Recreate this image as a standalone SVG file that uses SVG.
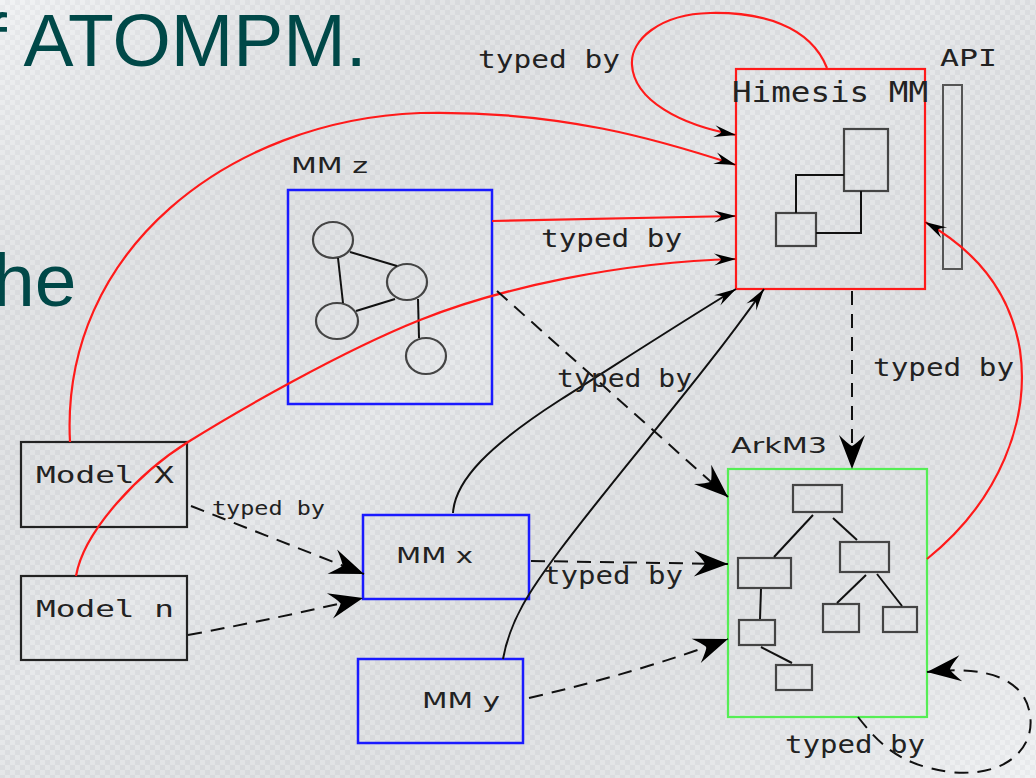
<svg xmlns="http://www.w3.org/2000/svg" width="1036" height="778" viewBox="0 0 1036 778">
<defs>
<pattern id="chk" width="10" height="10" patternUnits="userSpaceOnUse"><rect width="10" height="10" fill="#e4e6e9"/><rect width="5" height="5" fill="#eef0f2"/><rect x="5" y="5" width="5" height="5" fill="#eef0f2"/></pattern>
<linearGradient id="shade" x1="0" y1="0" x2="1" y2="1"><stop offset="0" stop-color="#fff" stop-opacity="0.2"/><stop offset="0.45" stop-color="#000" stop-opacity="0.03"/><stop offset="1" stop-color="#fff" stop-opacity="0.2"/></linearGradient>
<marker id="big" markerUnits="userSpaceOnUse" markerWidth="40" markerHeight="30" viewBox="-36 -15 40 30" refX="0" refY="0" orient="auto"><path d="M0,0 L-34,-13 Q-25,-4 -23,0 Q-25,4 -34,13 Z" fill="#000"/></marker>
<marker id="sm" markerUnits="userSpaceOnUse" markerWidth="26" markerHeight="16" viewBox="-24 -8 26 16" refX="0" refY="0" orient="auto"><path d="M0,0 L-22,-6 Q-16,-2 -15,0 Q-16,2 -22,6 Z" fill="#000"/></marker>
<style>
.lbl{font-family:"DejaVu Sans Mono",monospace;fill:#222}
.sans{font-family:"DejaVu Sans",sans-serif;fill:#222}
.red{fill:none;stroke:#ff1a1a;stroke-width:2.2}
.blk{fill:none;stroke:#111;stroke-width:2}
.dash{fill:none;stroke:#111;stroke-width:2;stroke-dasharray:14 9}
.inner{fill:none;stroke:#444;stroke-width:2.2}
.wire{fill:none;stroke:#111;stroke-width:2}
.blue{fill:none;stroke:#1a1aff;stroke-width:2.5}
.box{fill:none;stroke:#222;stroke-width:2.2}
</style>
</defs>
<rect width="1036" height="778" fill="url(#chk)"/>
<rect width="1036" height="778" fill="url(#shade)"/>
<g id="title">
<text x="-14" y="66" font-family="Liberation Sans, Arial, sans-serif" font-size="75" fill="#004848">f ATOMPM.</text>
<text x="-7" y="306" font-family="Liberation Sans, Arial, sans-serif" font-size="75" fill="#004848">he</text>
</g>
<g id="node-himesis">
<rect x="736" y="69" width="189" height="220" fill="none" stroke="#ff1a1a" stroke-width="2.2"/>
<text class="lbl" x="732" y="102" font-size="28" textLength="196" lengthAdjust="spacingAndGlyphs">Himesis MM</text>
<rect class="inner" x="844" y="129" width="44" height="62"/>
<rect class="inner" x="776" y="213" width="40" height="33"/>
<polyline class="wire" points="796,213 796,175 844,175"/>
<polyline class="wire" points="861,191 861,233 816,233"/>
</g>
<g id="node-api">
<rect x="943" y="85" width="19" height="184" fill="none" stroke="#555" stroke-width="2"/>
<text class="lbl" x="940" y="66" font-size="23" textLength="57" lengthAdjust="spacingAndGlyphs">API</text>
</g>
<g id="node-mmz">
<rect class="blue" x="288" y="190" width="204" height="214"/>
<text class="sans" x="291" y="173" font-size="22" textLength="77" lengthAdjust="spacingAndGlyphs">MM z</text>
<ellipse class="inner" cx="333" cy="240" rx="20" ry="18"/>
<ellipse class="inner" cx="407" cy="282" rx="20" ry="18"/>
<ellipse class="inner" cx="337" cy="321" rx="21" ry="18"/>
<ellipse class="inner" cx="426" cy="356" rx="20" ry="18"/>
<line class="wire" x1="350" y1="252" x2="397" y2="266"/>
<line class="wire" x1="338" y1="258" x2="343" y2="303"/>
<line class="wire" x1="356" y1="311" x2="395" y2="299"/>
<line class="wire" x1="418" y1="299" x2="419" y2="338"/>
</g>
<g id="node-arkm3">
<rect x="728" y="469" width="199" height="248" fill="none" stroke="#55ee55" stroke-width="2.2"/>
<text class="sans" x="731" y="453" font-size="22" textLength="96" lengthAdjust="spacingAndGlyphs">ArkM3</text>
<rect class="inner" x="793" y="485" width="49" height="27"/>
<rect class="inner" x="738" y="558" width="53" height="30"/>
<rect class="inner" x="840" y="542" width="49" height="30"/>
<rect class="inner" x="739" y="620" width="36" height="25"/>
<rect class="inner" x="776" y="665" width="36" height="25"/>
<rect class="inner" x="823" y="604" width="36" height="28"/>
<rect class="inner" x="883" y="607" width="34" height="25"/>
<line class="wire" x1="813" y1="515" x2="774" y2="557"/>
<line class="wire" x1="833" y1="518" x2="857" y2="540"/>
<line class="wire" x1="761" y1="589" x2="760" y2="619"/>
<line class="wire" x1="761" y1="647" x2="792" y2="663"/>
<line class="wire" x1="866" y1="575" x2="837" y2="603"/>
<line class="wire" x1="877" y1="574" x2="902" y2="606"/>
</g>
<g id="node-modelx">
<rect class="box" x="21" y="442" width="166" height="85"/>
<text class="lbl" x="36" y="483" font-size="23" textLength="138" lengthAdjust="spacingAndGlyphs">Model X</text>
</g>
<g id="node-modeln">
<rect class="box" x="21" y="576" width="166" height="84"/>
<text class="lbl" x="36" y="617" font-size="23" textLength="138" lengthAdjust="spacingAndGlyphs">Model n</text>
</g>
<g id="node-mmx">
<rect class="blue" x="363" y="515" width="166" height="84"/>
<text class="sans" x="396" y="563" font-size="22" textLength="77" lengthAdjust="spacingAndGlyphs">MM x</text>
</g>
<g id="node-mmy">
<rect class="blue" x="358" y="659" width="165" height="84"/>
<text class="sans" x="422" y="708" font-size="22" textLength="78" lengthAdjust="spacingAndGlyphs">MM y</text>
</g>
<g id="connectors">
<path class="red" d="M70,442 C60,250 230,120 420,113 C560,110 660,140 736,165" marker-end="url(#sm)"/>
<path class="red" d="M76,576 C84,530 140,472 188,442 C236,412 340,352 420,320 C500,288 620,262 736,259" marker-end="url(#sm)"/>
<path class="red" d="M492,221 L736,216" marker-end="url(#sm)"/>
<path class="red" d="M827,68 C810,25 760,12 710,13 C660,14 630,40 632,65 C634,100 680,125 736,135" marker-end="url(#sm)"/>
<path class="red" d="M927,559 C1000,500 1030,420 1020,350 C1010,290 975,250 925,222" marker-end="url(#sm)"/>
<path class="blk" d="M453,513 C455,480 490,445 560,400 C620,362 680,323 736,289" marker-end="url(#sm)"/>
<path class="blk" d="M503,659 C510,620 530,590 560,550 C620,470 700,380 764,289" marker-end="url(#sm)"/>
<path class="dash" d="M497,291 L728,497" marker-end="url(#big)"/>
<path class="dash" d="M191,506 L364,574" marker-end="url(#big)"/>
<path class="dash" d="M188,635 Q280,618 363,598" marker-end="url(#big)"/>
<path class="dash" d="M531,561 L728,564" marker-end="url(#big)"/>
<path class="dash" d="M529,698 Q640,672 728,639" marker-end="url(#big)"/>
<path class="dash" d="M852,291 L852,469" marker-end="url(#big)"/>
<path class="dash" d="M858,717 C880,745 900,765 950,772 C1010,778 1035,745 1030,715 C1025,680 990,665 927,672" marker-end="url(#big)"/>
<text class="lbl" x="478" y="68" font-size="24" textLength="142" lengthAdjust="spacingAndGlyphs">typed by</text>
<text class="lbl" x="541" y="247" font-size="24" textLength="141" lengthAdjust="spacingAndGlyphs">typed by</text>
<text class="lbl" x="557" y="387" font-size="24" textLength="135" lengthAdjust="spacingAndGlyphs">typed by</text>
<text class="lbl" x="873" y="376" font-size="24" textLength="141" lengthAdjust="spacingAndGlyphs">typed by</text>
<text class="lbl" x="212" y="515" font-size="19" textLength="113" lengthAdjust="spacingAndGlyphs">typed by</text>
<text class="lbl" x="543" y="584" font-size="24" textLength="140" lengthAdjust="spacingAndGlyphs">typed by</text>
<text class="lbl" x="785" y="753" font-size="24" textLength="140" lengthAdjust="spacingAndGlyphs">typed by</text>
</g>
</svg>
